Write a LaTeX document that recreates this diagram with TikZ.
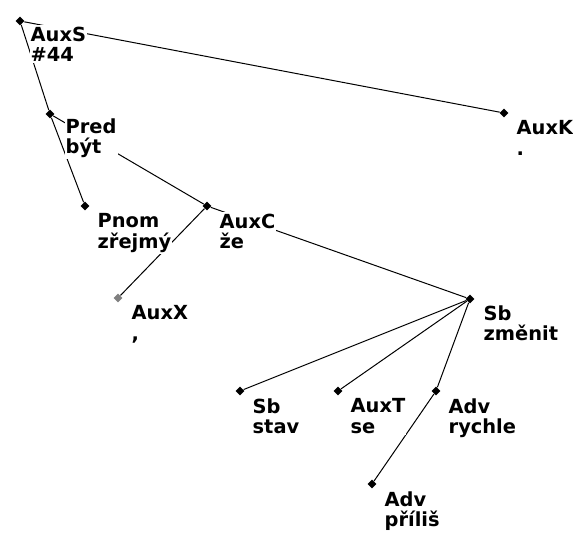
\documentclass[tikz,border=0pt]{standalone}
\usepackage{fontspec}
\setsansfont{DejaVu Sans}
\usepackage{tikz}
\usetikzlibrary{shapes.geometric}

\tikzset{
	dot/.style={diamond, fill=black, inner sep=0pt, minimum size=4.6pt},
	lbl/.style={anchor=north west, fill=white, inner sep=0.6pt, align=left,
		font=\sffamily\bfseries\fontsize{9.7}{10.2}\selectfont}
}

\begin{document}
\begin{tikzpicture}[x=0.5pt, y=-0.5pt, line width=0.5pt]
			
			\useasboundingbox (0,0) rectangle (573,534);
			
			\node[dot] (auxs) at (20,21) {};
			\node[dot] (pred) at (50,114) {};
			\node[dot] (auxk) at (504,113) {};
			\node[dot] (pnom) at (85,206) {};
			\node[dot] (auxc) at (207,206) {};
			\node[dot, fill=gray] (auxx) at (118,298) {};
			\node[dot] (sb) at (470,299) {};
			\node[dot] (stav) at (240,391) {};
			\node[dot] (auxt) at (338,391) {};
			\node[dot] (rychle) at (436,391) {};
			\node[dot] (prilis) at (372,484) {};
			
			\draw (auxs) -- (pred);
			\draw (auxs) -- (auxk);
			\draw (pred) -- (pnom);
			\draw (pred) -- (auxc);
			\draw (auxc) -- (auxx);
			\draw (auxc) -- (sb);
			\draw (sb) -- (stav);
			\draw (sb) -- (auxt);
			\draw (sb) -- (rychle);
			\draw (rychle) -- (prilis);
			
			% labels over the edges
			\node[lbl] (auxs-l) at ([shift={(9,4)}]auxs) {AuxS\\\#44};
			\node[lbl] (pred-l) at ([shift={(14,3)}]pred) {Pred\\být};
			\node[lbl] (auxk-l) at ([shift={(11,6)}]auxk) {AuxK\\.};
			\node[lbl] (pnom-l) at ([shift={(11,6)}]pnom) {Pnom\\zřejmý};
			\node[lbl] (auxc-l) at ([shift={(11,6)}]auxc) {AuxC\\že};
			\node[lbl] (auxx-l) at ([shift={(12,6)}]auxx) {AuxX\\,};
			\node[lbl] (sb-l) at ([shift={(12,5)}]sb) {Sb\\změnit};
			\node[lbl] (stav-l) at ([shift={(11,6)}]stav) {Sb\\stav};
			\node[lbl] (auxt-l) at ([shift={(11,6)}]auxt) {AuxT\\se};
			\node[lbl] (rychle-l) at ([shift={(11,6)}]rychle) {Adv\\rychle};
			\node[lbl] (prilis-l) at ([shift={(11,6)}]prilis) {Adv\\příliš};
			
		\end{tikzpicture}
\end{document}
